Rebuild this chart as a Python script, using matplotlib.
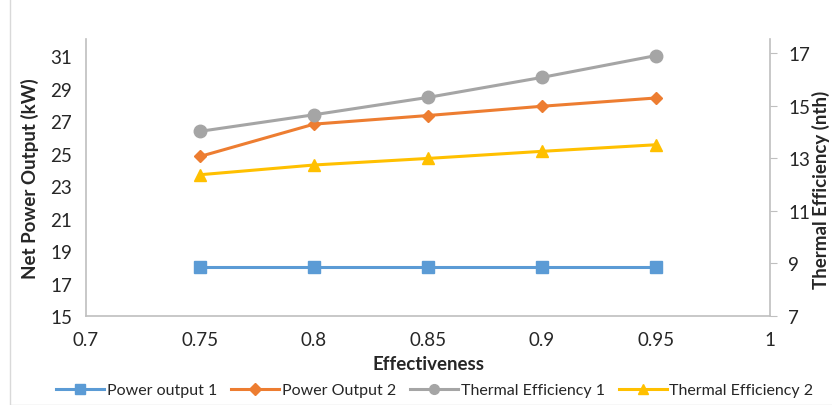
import matplotlib
matplotlib.use("Agg")
import matplotlib.pyplot as plt
from matplotlib.lines import Line2D
from matplotlib.patches import Rectangle

plt.rcParams['font.family'] = ['Lato', 'DejaVu Sans']

effectiveness = [0.75, 0.8, 0.85, 0.9, 0.95]
power_output_1 = [18.0, 18.0, 18.0, 18.0, 18.0]
power_output_2 = [24.82, 26.81, 27.34, 27.91, 28.42]
thermal_eff_1 = [14.02, 14.65, 15.31, 16.07, 16.9]
thermal_eff_2 = [12.37, 12.74, 12.99, 13.26, 13.51]

x_ticks = [0.7, 0.75, 0.8, 0.85, 0.9, 0.95, 1]
x_tick_labels = ["0.7", "0.75", "0.8", "0.85", "0.9", "0.95", "1"]
left_ticks = [15, 17, 19, 21, 23, 25, 27, 29, 31]
right_ticks = [7, 9, 11, 13, 15, 17]

c_blue, c_orange, c_gray, c_yellow = "#5B9BD5", "#ED7D31", "#A5A5A5", "#FFC000"
spine_c = "#BFBFBF"
txt_c = "#262626"

fig = plt.figure(figsize=(8.32, 4.06), dpi=100)
W, H = 832, 406
l, r, t, b = 86, 770, 40, 317
ax = fig.add_axes([l / W, 1 - b / H, (r - l) / W, (b - t) / H])
ax2 = ax.twinx()

ax.set_xlim(0.7, 1.0)
ax.set_ylim(15, 32.05)
ax2.set_ylim(7, 17.53)

lw = 2.2
ax.plot(effectiveness, power_output_1, color=c_blue, marker='s', ms=8, lw=lw, label="Power output 1")
ax.plot(effectiveness, power_output_2, color=c_orange, marker='D', ms=6.5, lw=lw, label="Power Output 2")
ax2.plot(effectiveness, thermal_eff_1, color=c_gray, marker='o', ms=9, lw=lw, label="Thermal Efficiency 1")
ax2.plot(effectiveness, thermal_eff_2, color=c_yellow, marker='^', ms=9, lw=lw, label="Thermal Efficiency 2")

ax.set_xticks(x_ticks)
ax.set_xticklabels(x_tick_labels)
ax.set_yticks(left_ticks)
ax2.set_yticks(right_ticks)

for a in (ax, ax2):
    for s in a.spines.values():
        s.set_color(spine_c)
        s.set_linewidth(1.2)
    a.spines['top'].set_visible(False)
ax.spines['right'].set_visible(False)
ax2.spines['left'].set_visible(False)
ax2.spines['bottom'].set_visible(False)

fs = 13.5
ax.tick_params(axis='x', length=0, labelsize=fs, labelcolor=txt_c, pad=11)
ax.tick_params(axis='y', length=0, labelsize=fs, labelcolor=txt_c, pad=10)
ax2.tick_params(axis='y', length=5, color=spine_c, direction='out', labelsize=fs, labelcolor=txt_c, pad=8)

ax.set_xlabel("Effectiveness", fontsize=13.5, fontweight='bold', color=txt_c, labelpad=5)
ax.set_ylabel("Net Power Output (kW)", fontsize=13.5, fontweight='bold', color=txt_c, labelpad=8)
fig.text(821 / W, 1 - 190 / H, "Thermal Efficiency (nth)", rotation=90, ha='center', va='center',
         fontsize=13.5, fontweight='bold', color=txt_c)

handles = [
    Line2D([], [], color=c_blue, marker='s', ms=7, lw=lw),
    Line2D([], [], color=c_orange, marker='D', ms=6, lw=lw),
    Line2D([], [], color=c_gray, marker='o', ms=7, lw=lw),
    Line2D([], [], color=c_yellow, marker='^', ms=7, lw=lw),
]
labels = ["Power output 1", "Power Output 2", "Thermal Efficiency 1", "Thermal Efficiency 2"]
fig.legend(handles, labels, loc='center', bbox_to_anchor=(435 / W, 1 - 391 / H), ncol=4,
           frameon=False, fontsize=11.5, handlelength=3.0, handletextpad=0.15, columnspacing=0.9,
           labelcolor=txt_c)

fig.patches.append(Rectangle((10 / W, 0.5 / H), 1.2, 1.2, transform=fig.transFigure,
                             fill=False, edgecolor="#D9D9D9", lw=1))

fig.savefig("out.png", dpi=100)
